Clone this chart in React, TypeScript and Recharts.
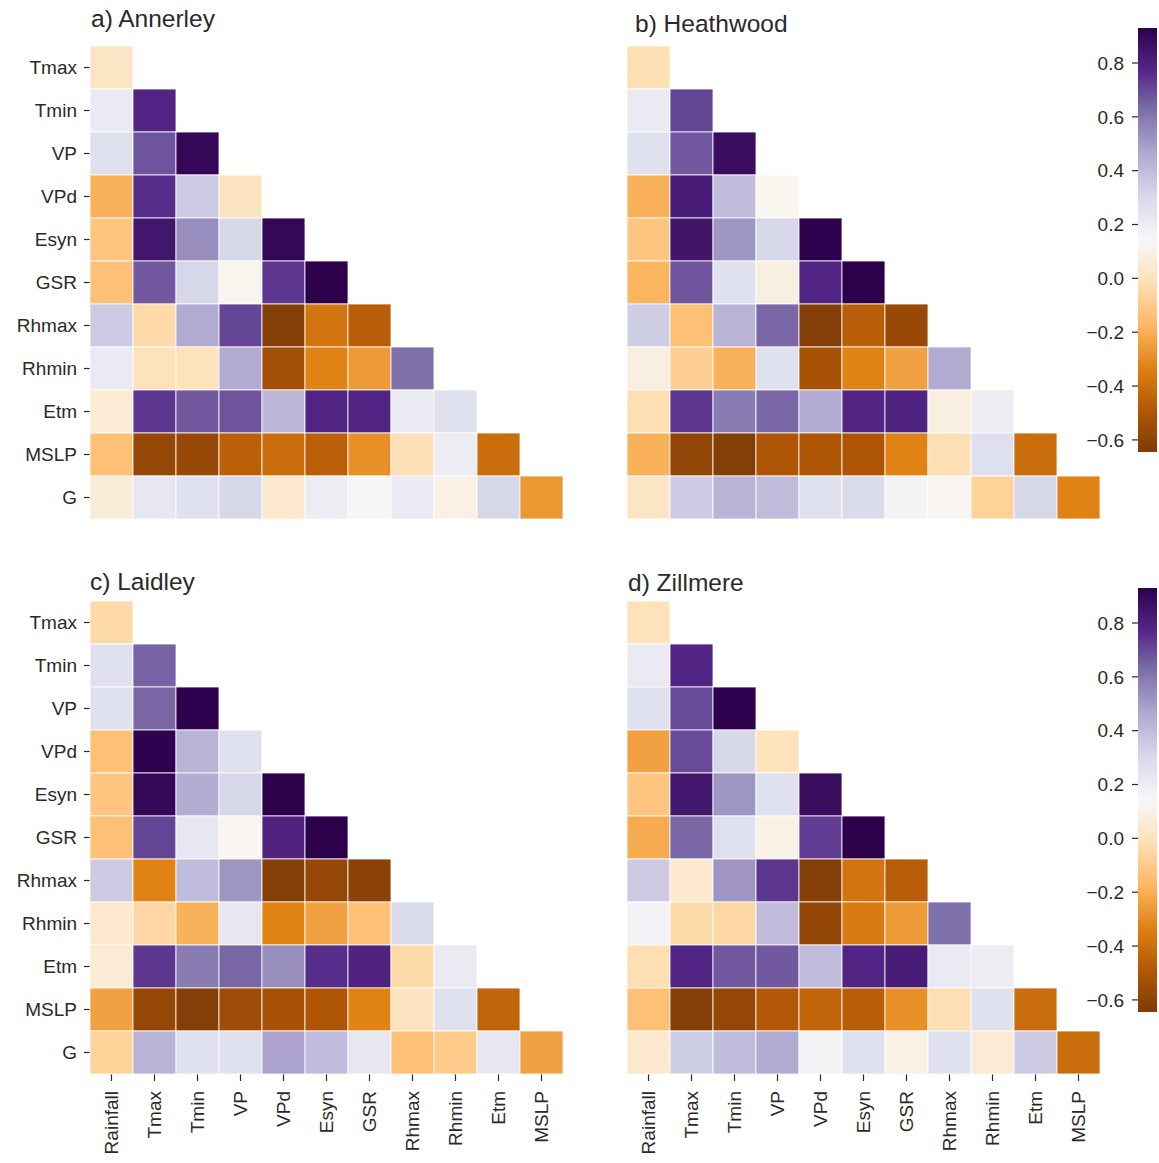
import { ScatterChart, Scatter, XAxis, YAxis, BarChart, Bar } from "recharts";

const COLS = ["Rainfall", "Tmax", "Tmin", "VP", "VPd", "Esyn", "GSR", "Rhmax", "Rhmin", "Etm", "MSLP"];
const ROWS = ["Tmax", "Tmin", "VP", "VPd", "Esyn", "GSR", "Rhmax", "Rhmin", "Etm", "MSLP", "G"];
const IDX = [0, 1, 2, 3, 4, 5, 6, 7, 8, 9, 10];
const CB_TICKS = [-0.6, -0.4, -0.2, 0, 0.2, 0.4, 0.6, 0.8];

// lower-triangle correlations, row by row
const annerley = [
  [0.02],
  [0.21, 0.78],
  [0.27, 0.68, 0.9],
  [-0.19, 0.76, 0.35, 0.01],
  [-0.12, 0.84, 0.54, 0.31, 0.9],
  [-0.14, 0.67, 0.31, 0.12, 0.74, 0.93],
  [0.35, -0.04, 0.46, 0.71, -0.63, -0.38, -0.47],
  [0.21, 0.0, 0.0, 0.46, -0.54, -0.33, -0.26, 0.62],
  [0.06, 0.74, 0.67, 0.68, 0.42, 0.78, 0.78, 0.21, 0.26],
  [-0.14, -0.58, -0.57, -0.46, -0.41, -0.46, -0.29, -0.01, 0.2, -0.41],
  [0.07, 0.23, 0.26, 0.31, 0.04, 0.2, 0.15, 0.21, 0.1, 0.31, -0.27],
];

const heathwood = [
  [-0.02],
  [0.21, 0.71],
  [0.26, 0.67, 0.88],
  [-0.19, 0.82, 0.4, 0.12],
  [-0.12, 0.85, 0.52, 0.31, 0.92],
  [-0.18, 0.68, 0.26, 0.09, 0.78, 0.93],
  [0.34, -0.14, 0.43, 0.64, -0.63, -0.47, -0.57],
  [0.09, -0.08, -0.19, 0.26, -0.52, -0.33, -0.24, 0.46],
  [-0.02, 0.74, 0.59, 0.64, 0.46, 0.78, 0.79, 0.09, 0.2],
  [-0.19, -0.59, -0.63, -0.5, -0.5, -0.5, -0.33, -0.02, 0.27, -0.41],
  [0.02, 0.35, 0.43, 0.4, 0.26, 0.29, 0.16, 0.13, -0.07, 0.31, -0.33],
];

const laidley = [
  [-0.04],
  [0.26, 0.65],
  [0.26, 0.64, 0.92],
  [-0.14, 0.92, 0.43, 0.26],
  [-0.12, 0.9, 0.45, 0.31, 0.93],
  [-0.14, 0.71, 0.23, 0.13, 0.79, 0.93],
  [0.35, -0.33, 0.4, 0.52, -0.63, -0.58, -0.61],
  [0.04, -0.05, -0.19, 0.23, -0.33, -0.24, -0.14, 0.29],
  [0.06, 0.74, 0.59, 0.64, 0.54, 0.76, 0.79, -0.04, 0.21],
  [-0.24, -0.58, -0.63, -0.55, -0.52, -0.5, -0.33, 0.01, 0.26, -0.44],
  [-0.07, 0.43, 0.26, 0.26, 0.48, 0.4, 0.23, -0.14, -0.1, 0.23, -0.24],
];

const zillmere = [
  [0.0],
  [0.21, 0.78],
  [0.27, 0.7, 0.92],
  [-0.24, 0.7, 0.31, 0.0],
  [-0.12, 0.84, 0.52, 0.27, 0.88],
  [-0.21, 0.64, 0.27, 0.1, 0.73, 0.93],
  [0.35, 0.04, 0.52, 0.74, -0.63, -0.38, -0.47],
  [0.16, -0.04, -0.05, 0.4, -0.59, -0.36, -0.26, 0.62],
  [-0.02, 0.78, 0.67, 0.67, 0.4, 0.78, 0.82, 0.21, 0.2],
  [-0.14, -0.63, -0.58, -0.49, -0.44, -0.47, -0.29, -0.02, 0.26, -0.41],
  [0.04, 0.34, 0.4, 0.46, 0.16, 0.26, 0.1, 0.26, 0.06, 0.35, -0.41],
];

const VMIN = -0.645;
const VMAX = 0.93;

const PUOR = [
  "#7f3b08", "#b35806", "#e08214", "#fdb863", "#fee0b6", "#f7f7f7",
  "#d8daeb", "#b2abd2", "#8073ac", "#542788", "#2d004b",
];

const FONT = "'Liberation Sans', Arial, sans-serif";
const TXT = "#2a2a2a";
const PLOT = 473;
const CELL = PLOT / 11;
const FS = 19;

function hexToRgb(h: string) {
  const n = parseInt(h.slice(1), 16);
  return [(n >> 16) & 255, (n >> 8) & 255, n & 255];
}

function colorFor(v: number) {
  let t = (v - VMIN) / (VMAX - VMIN);
  t = Math.max(0, Math.min(1, t));
  const pos = t * (PUOR.length - 1);
  const i = Math.min(Math.floor(pos), PUOR.length - 2);
  const f = pos - i;
  const a = hexToRgb(PUOR[i]);
  const b = hexToRgb(PUOR[i + 1]);
  const c = a.map((x, k) => Math.round(x + (b[k] - x) * f));
  return `rgb(${c[0]},${c[1]},${c[2]})`;
}

const HeatCell = (props: any) => {
  const { cx, cy, payload } = props;
  if (cx == null || cy == null) return null;
  return (
    <rect
      x={cx - CELL / 2}
      y={cy - CELL / 2}
      width={CELL}
      height={CELL}
      fill={colorFor(payload.v)}
      stroke="#ffffff"
      strokeWidth={0.8}
    />
  );
};

const XTick = (props: any) => {
  const { x, y, payload } = props;
  return (
    <g transform={`translate(${x},${y})`}>
      <text
        transform="rotate(-90)"
        x={-8}
        y={0}
        dy="0.35em"
        textAnchor="end"
        fill={TXT}
        fontSize={FS}
        fontFamily={FONT}
      >
        {COLS[payload.value]}
      </text>
    </g>
  );
};

function Panel({
  title, values, left, top, showX, showY, titleLeft, titleTop,
}: {
  title: string; values: number[][]; left: number; top: number;
  showX: boolean; showY: boolean; titleLeft: number; titleTop: number;
}) {
  const data = values.flatMap((row, r) => row.map((v, c) => ({ x: c, y: r, v })));
  const yw = showY ? 90 : 0;
  const xh = showX ? 92 : 0;
  return (
    <>
      <div
        style={{
          position: "absolute", left: titleLeft, top: titleTop,
          fontFamily: FONT, fontSize: 24.5, lineHeight: 1, color: TXT, whiteSpace: "nowrap",
        }}
      >
        {title}
      </div>
      <div style={{ position: "absolute", left, top }}>
        <ScatterChart
          width={yw + PLOT + 2}
          height={PLOT + xh}
          margin={{ top: 0, right: 2, bottom: 0, left: 0 }}
        >
          <XAxis
            type="number"
            dataKey="x"
            domain={[-0.5, 10.5]}
            ticks={IDX}
            hide={!showX}
            height={xh}
            axisLine={false}
            tickSize={7}
            tickLine={{ stroke: TXT, strokeWidth: 1.2 }}
            tick={<XTick />}
            interval={0}
          />
          <YAxis
            type="number"
            dataKey="y"
            domain={[-0.5, 10.5]}
            reversed
            ticks={IDX}
            hide={!showY}
            width={yw}
            axisLine={false}
            tickSize={6}
            tickMargin={7}
            tickLine={{ stroke: TXT, strokeWidth: 1.2 }}
            tick={{ fill: TXT, fontSize: FS, fontFamily: FONT }}
            tickFormatter={(i: number) => ROWS[i]}
            interval={0}
          />
          <Scatter data={data} shape={HeatCell} isAnimationActive={false} />
        </ScatterChart>
      </div>
    </>
  );
}

function ColorBar({ left, top, id }: { left: number; top: number; id: string }) {
  const cb = [{ name: "cb", r: [VMIN, VMAX] }];
  return (
    <div style={{ position: "absolute", left, top }}>
      <BarChart
        width={84}
        height={470}
        data={cb}
        margin={{ top: 28, right: 2, bottom: 18, left: 0 }}
        barCategoryGap={0}
      >
        <defs>
          <linearGradient id={id} x1="0" y1="0" x2="0" y2="1">
            {PUOR.map((c, i) => (
              <stop key={i} offset={`${(i / (PUOR.length - 1)) * 100}%`} stopColor={PUOR[PUOR.length - 1 - i]} />
            ))}
          </linearGradient>
        </defs>
        <XAxis dataKey="name" hide />
        <YAxis
          type="number"
          domain={[VMIN, VMAX]}
          allowDataOverflow
          ticks={CB_TICKS}
          width={63}
          axisLine={false}
          tickSize={6}
          tickMargin={8}
          tickLine={{ stroke: TXT, strokeWidth: 1.2 }}
          tick={{ fill: TXT, fontSize: FS, fontFamily: FONT }}
          tickFormatter={(v: number) => v.toFixed(1).replace("-", "\u2212")}
          interval={0}
        />
        <Bar dataKey="r" fill={`url(#${id})`} isAnimationActive={false} />
      </BarChart>
    </div>
  );
}

export default function App() {
  return (
    <div
      style={{
        position: "absolute", left: 0, top: 0, width: 1159, height: 1163,
        background: "#ffffff", overflow: "hidden",
      }}
    >
      <Panel title="a) Annerley" values={annerley} left={0} top={46} showX={false} showY titleLeft={91} titleTop={7} />
      <Panel title="b) Heathwood" values={heathwood} left={627} top={46} showX={false} showY={false} titleLeft={635} titleTop={12} />
      <Panel title="c) Laidley" values={laidley} left={0} top={601} showX showY titleLeft={90} titleTop={570} />
      <Panel title="d) Zillmere" values={zillmere} left={627} top={601} showX showY={false} titleLeft={628} titleTop={571} />
      <ColorBar left={1075} top={0} id="cbTop" />
      <ColorBar left={1075} top={560} id="cbBottom" />
    </div>
  );
}
